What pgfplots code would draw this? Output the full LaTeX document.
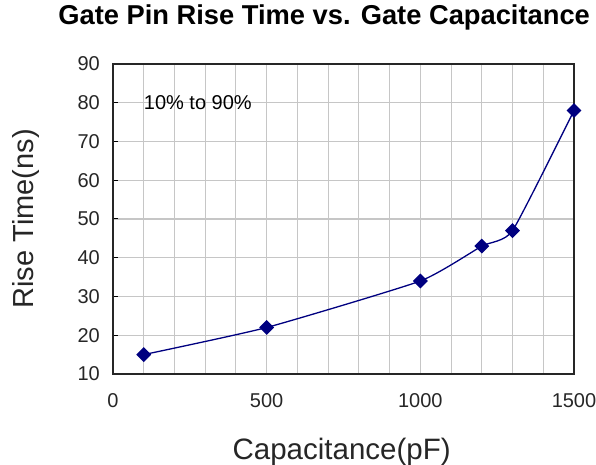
\documentclass[border=0pt]{standalone}
\usepackage{fontspec}
\setmainfont{Liberation Sans}
\usepackage{pgfplots}
\pgfplotsset{compat=1.18}
\definecolor{navyline}{RGB}{0,0,128}
\begin{document}
\begin{tikzpicture}
\begin{axis}[
  name=ax,
  scale only axis,
  width=461bp, height=310bp,
  xmin=0, xmax=1500, ymin=10, ymax=90,
  xtick={0,100,200,300,400,500,600,700,800,900,1000,1100,1200,1300,1400,1500},
  xticklabels={0,,,,,500,,,,,1000,,,,,1500},
  ytick={10,20,30,40,50,60,70,80,90},
  xmajorgrids, ymajorgrids,
  grid style={line width=1.1bp, color=gray!45},
  major tick length=5bp,
  tick align=inside,
  xtick pos=bottom, ytick pos=left,
  xtick style={draw=none},
  ytick style={black, line width=1bp},
  axis line style={line width=1.5bp, color=black!85},
  /pgf/number format/assume math mode=true,
  /pgf/number format/set thousands separator={},
  ticklabel style={font=\fontsize{20bp}{22bp}\selectfont, text=black!85},
  xticklabel style={anchor=north, inner sep=0pt, yshift=-19bp},
  yticklabel style={anchor=east, inner sep=0pt, xshift=-13bp},
  title={\textbf{Gate Pin Rise Time vs. Gate Capacitance}},
  title style={at={(0.458,1.1097)}, anchor=base, inner sep=0pt, font=\fontsize{27.3bp}{30bp}\selectfont},
  xlabel={Capacitance(pF)},
  xlabel style={at={(0.496,-0.2774)}, anchor=base, inner sep=0pt, font=\fontsize{29.5bp}{31bp}\selectfont, text=black!85},
  ylabel={Rise Time(ns)},
  ylabel style={at={(-0.1735,0.5)}, anchor=base, inner sep=0pt, font=\fontsize{29bp}{31bp}\selectfont, text=black!85},
]
\addplot[color=navyline, line width=1.3bp, smooth, tension=0.3, mark=square*,
  mark size=4.6bp, mark options={rotate=45, fill=navyline, draw=navyline, solid}]
  coordinates {(100,15) (500,22) (1000,34) (1200,43) (1300,47) (1500,78)};
\node[anchor=west, inner sep=0pt, font=\fontsize{20bp}{22bp}\selectfont] at (axis cs:100,80) {10\% to 90\%};
\end{axis}
\pgfresetboundingbox
\path ([shift={(-113bp,-91bp)}]ax.south west) rectangle ([shift={(22bp,64bp)}]ax.north east);
\end{tikzpicture}
\end{document}
